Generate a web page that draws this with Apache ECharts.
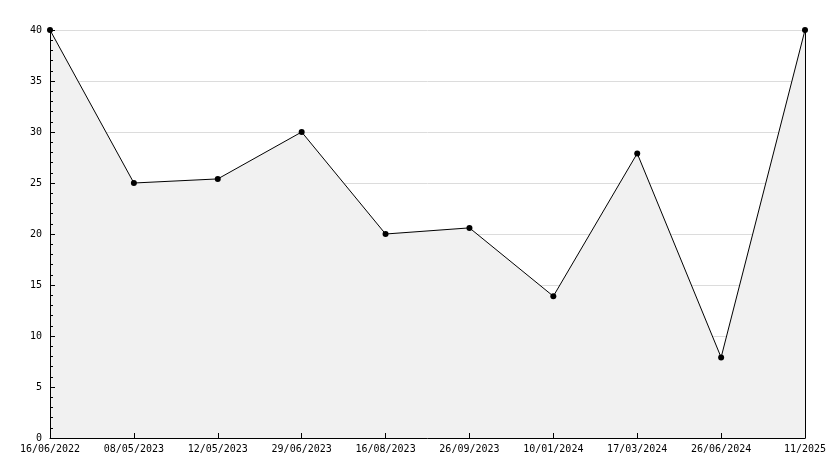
<!DOCTYPE html>
<html><head><meta charset="utf-8">
<script src="https://cdn.jsdelivr.net/npm/echarts@6/dist/echarts.min.js"></script>
<style>html,body{margin:0;padding:0;background:#fff}#c{width:834px;height:468px}</style>
</head><body><div id="c"></div>
<script>
const categories = ["16/06/2022","08/05/2023","12/05/2023","29/06/2023","16/08/2023","26/09/2023","10/01/2024","17/03/2024","26/06/2024","11/2025"];
const values = [40, 25, 25.4, 30, 20, 20.6, 13.9, 27.9, 7.9, 40];
const yTickMin = 0, yTickMax = 40, yTickStep = 5;
const chart = echarts.init(document.getElementById('c'));
const font = {fontFamily: 'DejaVu Sans Mono', fontSize: 10, color: '#000'};
chart.setOption({
  animation: false,
  grid: {left: 50, right: 29, top: 30, bottom: 30},
  xAxis: {
    type: 'category', data: categories, boundaryGap: false, z: 5,
    axisLine: {lineStyle: {color: '#000', width: 1}},
    axisTick: {inside: true, length: 5, lineStyle: {color: '#000'}},
    axisLabel: Object.assign({margin: 6, interval: 0}, font),
    splitLine: {show: false}
  },
  yAxis: [{
    type: 'value', min: yTickMin, max: yTickMax, interval: yTickStep, z: 0,
    axisLine: {show: false}, axisTick: {show: false}, axisLabel: {show: false},
    splitLine: {show: true, lineStyle: {color: '#dcdcdc', width: 1}}
  }, {
    type: 'value', min: yTickMin, max: yTickMax, interval: yTickStep, position: 'left', z: 5,
    axisLine: {show: true, onZero: false, lineStyle: {color: '#000', width: 1}},
    axisTick: {show: true, inside: true, length: 5, lineStyle: {color: '#000'}},
    minorTick: {show: true, splitNumber: 5, length: 3, lineStyle: {color: '#000'}},
    axisLabel: Object.assign({margin: 8}, font),
    splitLine: {show: false}
  }, {
    type: 'value', min: yTickMin, max: yTickMax, interval: yTickStep, position: 'right', z: 5,
    axisLine: {show: true, onZero: false, lineStyle: {color: '#000', width: 1}},
    axisTick: {show: false}, axisLabel: {show: false}, splitLine: {show: false}
  }],
  series: [{
    type: 'line', data: values, yAxisIndex: 0, z: 2,
    symbol: 'circle', symbolSize: 6,
    itemStyle: {color: '#000'},
    lineStyle: {color: '#000', width: 1},
    areaStyle: {color: '#f1f1f1', opacity: 1}
  }]
});
</script></body></html>
